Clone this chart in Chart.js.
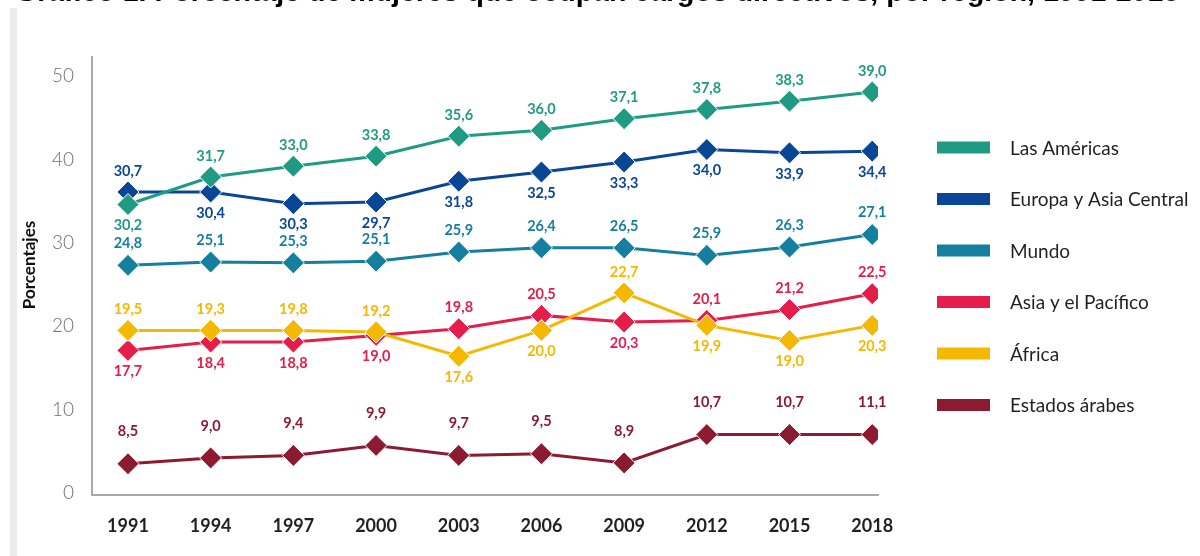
<!DOCTYPE html>
<html>
<head>
  <title>Mujeres en cargos directivos por región</title>
  <script src="https://cdn.jsdelivr.net/npm/chart.js@4.4.0/dist/chart.umd.min.js"></script>
  <style>
    body { margin: 0; background: #fff; }
    #wrap { width: 1200px; height: 556px; position: relative; }
  </style>
</head>
<body>
  <div id="wrap"><canvas id="chart"></canvas></div>

  <script>
    // Data
    const years = ['1991', '1994', '1997', '2000', '2003', '2006', '2009', '2012', '2015', '2018'];
    const yTicks = [0, 10, 20, 30, 40, 50];
    const titleText = 'Gráfico 1. Porcentaje de mujeres que ocupan cargos directivos, por región, 1991-2018';

    const seriesNames = ['Las Américas', 'Europa y Asia Central', 'Mundo', 'Asia y el Pacífico', 'África', 'Estados árabes'];

    // where the markers sit on the axis
    const americas = [34.6, 37.9, 39.2, 40.4, 42.8, 43.5, 44.9, 46.0, 47.0, 48.1];
    const europa   = [36.1, 36.1, 34.7, 34.9, 37.4, 38.5, 39.7, 41.2, 40.8, 41.0];
    const mundo    = [27.3, 27.7, 27.6, 27.8, 28.9, 29.4, 29.4, 28.5, 29.5, 31.0];
    const asia     = [17.1, 18.1, 18.1, 18.9, 19.7, 21.3, 20.5, 20.7, 22.0, 23.9];
    const africa   = [19.5, 19.5, 19.5, 19.3, 16.4, 19.5, 24.0, 20.1, 18.3, 20.1];
    const arabes   = [3.5, 4.2, 4.5, 5.7, 4.5, 4.7, 3.6, 7.0, 7.0, 7.0];

    // the numbers printed next to the markers
    const americasLabels = [30.2, 31.7, 33.0, 33.8, 35.6, 36.0, 37.1, 37.8, 38.3, 39.0];
    const europaLabels   = [30.7, 30.4, 30.3, 29.7, 31.8, 32.5, 33.3, 34.0, 33.9, 34.4];
    const mundoLabels    = [24.8, 25.1, 25.3, 25.1, 25.9, 26.4, 26.5, 25.9, 26.3, 27.1];
    const asiaLabels     = [17.7, 18.4, 18.8, 19.0, 19.8, 20.5, 20.3, 20.1, 21.2, 22.5];
    const africaLabels   = [19.5, 19.3, 19.8, 19.2, 17.6, 20.0, 22.7, 19.9, 19.0, 20.3];
    const arabesLabels   = [8.5, 9.0, 9.4, 9.9, 9.7, 9.5, 8.9, 10.7, 10.7, 11.1];

    const seriesValues = [americas, europa, mundo, asia, africa, arabes];
    const seriesLabels = [americasLabels, europaLabels, mundoLabels, asiaLabels, africaLabels, arabesLabels];

    const colors = ['#1f9b83', '#0a4696', '#157f9f', '#e41d4a', '#f5b800', '#8c1a31'];
    // 1 = label above the marker, -1 = below
    const labelSide = [
      [-1, 1, 1, 1, 1, 1, 1, 1, 1, 1],
      [1, -1, -1, -1, -1, -1, -1, -1, -1, -1],
      [1, 1, 1, 1, 1, 1, 1, 1, 1, 1],
      [-1, -1, -1, -1, 1, 1, -1, 1, 1, 1],
      [1, 1, 1, 1, -1, -1, 1, -1, -1, -1],
      [1, 1, 1, 1, 1, 1, 1, 1, 1, 1]
    ];
    const labelGap = [21, 21, 22, 21, 21, 32];
    const drawOrder = [0, 1, 2, 4, 3, 5];

    const fmt = v => v.toFixed(1).replace('.', ',');

    const datasets = seriesNames.map((name, i) => ({
      label: name,
      data: seriesValues[i].map((v, j) => ({ x: j, y: v })),
      borderColor: colors[i],
      backgroundColor: colors[i],
      borderWidth: 3,
      pointStyle: 'rectRot',
      pointRadius: 11,
      pointHoverRadius: 11,
      pointBorderColor: '#ffffff',
      pointBorderWidth: 1,
      order: drawOrder[i],
      tension: 0
    }));

    // title, grey side bar, value labels and legend
    const decorations = {
      id: 'decorations',
      beforeDraw(chart) {
        const ctx = chart.ctx;
        ctx.save();
        ctx.fillStyle = '#ebebeb';
        ctx.fillRect(10, 8, 7, 548);

        // the title is cut off at the top of the picture
        ctx.fillStyle = '#000';
        ctx.font = 'bold 24px "Liberation Sans"';
        const w = ctx.measureText(titleText).width;
        const size = 24 * 1165 / w;
        ctx.font = 'bold ' + size.toFixed(1) + 'px "Liberation Sans"';
        ctx.textBaseline = 'alphabetic';
        ctx.textAlign = 'left';
        ctx.fillText(titleText, 15, 1);

        // y axis title
        ctx.translate(30, 265);
        ctx.rotate(-Math.PI / 2);
        ctx.font = 'bold 17px Lato';
        ctx.fillStyle = '#111';
        ctx.textAlign = 'center';
        ctx.textBaseline = 'middle';
        ctx.fillText('Porcentajes', 0, 0);
        ctx.restore();
      },
      afterDatasetsDraw(chart) {
        const ctx = chart.ctx;
        ctx.save();
        ctx.font = 'bold 14.5px Lato';
        ctx.textAlign = 'center';
        ctx.textBaseline = 'middle';
        chart.data.datasets.forEach((ds, i) => {
          const meta = chart.getDatasetMeta(i);
          ctx.fillStyle = colors[i];
          meta.data.forEach((pt, j) => {
            ctx.fillText(fmt(seriesLabels[i][j]), pt.x, pt.y - labelSide[i][j] * labelGap[i]);
          });
        });
        ctx.restore();
      },
      afterDraw(chart) {
        const ctx = chart.ctx;
        ctx.save();
        ctx.font = '19px Lato';
        ctx.textAlign = 'left';
        ctx.textBaseline = 'middle';
        seriesNames.forEach((name, i) => {
          const y = 147.5 + i * 51.5;
          ctx.fillStyle = colors[i];
          ctx.fillRect(937, y - 6, 53, 12);
          ctx.fillStyle = '#231f20';
          ctx.fillText(name, 1010, y + 1);
        });
        ctx.restore();
      }
    };

    const chartCanvas = document.getElementById('chart');

    window.myChart = new Chart(chartCanvas, {
      type: 'line',
      data: { datasets },
      plugins: [decorations],
      options: {
        responsive: true,
        maintainAspectRatio: false,
        animation: false,
        events: [],
        layout: { padding: { top: 57, right: 322, bottom: 0, left: 0 } },
        plugins: {
          legend: { display: false },
          tooltip: { enabled: false }
        },
        scales: {
          x: {
            type: 'linear',
            min: -0.435,
            max: 9.07,
            afterBuildTicks: scale => { scale.ticks = years.map((y, i) => ({ value: i })); },
            afterFit: scale => { scale.height = 61; },
            grid: { display: false, drawTicks: false },
            border: { display: true, color: '#a7a7ae', width: 2 },
            ticks: {
              callback: v => years[v] || '',
              font: { family: 'Lato', size: 18, weight: 'bold' },
              color: '#231f20',
              padding: 20,
              maxRotation: 0,
              autoSkip: false
            }
          },
          y: {
            min: -0.25,
            max: 52.3,
            afterBuildTicks: scale => { scale.ticks = yTicks.map(v => ({ value: v })); },
            afterFit: scale => { scale.width = 92; },
            grid: { display: false, drawTicks: false },
            border: { display: true, color: '#a7a7ae', width: 2 },
            ticks: {
              font: { family: 'Lato', size: 19, weight: '300' },
              color: '#6d6e71',
              padding: 18
            }
          }
        }
      }
    });
  </script>
</body>
</html>
